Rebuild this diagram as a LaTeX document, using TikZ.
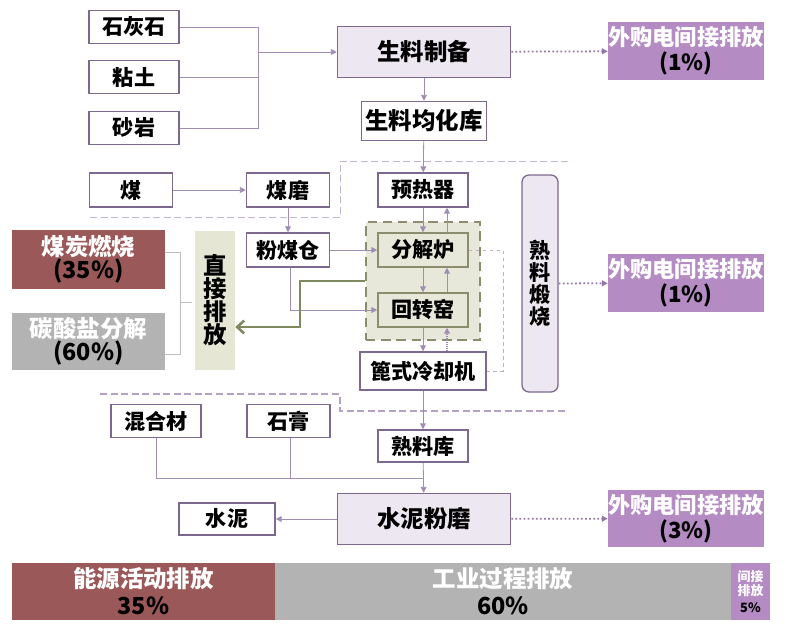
\documentclass[tikz,border=0pt]{standalone}
\usepackage{fontspec}
\setmainfont{Noto Sans CJK SC}
\usepackage{xcolor}
\usetikzlibrary{arrows.meta, positioning}

\definecolor{lnpurple}{HTML}{A08DB3}
\definecolor{bdpurple}{HTML}{7D6890}
\definecolor{lightpurple}{HTML}{EDE7F2}
\definecolor{elecpurple}{HTML}{B48BC3}
\definecolor{coalred}{HTML}{9B5859}
\definecolor{procgray}{HTML}{B3B3B3}
\definecolor{olivefill}{HTML}{E8E8DA}
\definecolor{olivedraw}{HTML}{8B8D6D}
\definecolor{oliveline}{HTML}{7F8A5E}
\definecolor{beige}{HTML}{E6E6D5}
\definecolor{regionline}{HTML}{B3A2C4}
\definecolor{bracketgray}{HTML}{BDBDBD}
\definecolor{dotpurple}{HTML}{9277A8}

\begin{document}
\begin{tikzpicture}[
    x=0.03cm, y=-0.03cm,
    box/.style={rectangle, draw=bdpurple, line width=1.3pt, fill=white, minimum width=2.7cm, minimum height=1cm, inner sep=0pt, font=\fontsize{18}{20}\selectfont\bfseries},
    bigbox/.style={box, fill=lightpurple, minimum width=5.19cm, minimum height=1.53cm, font=\fontsize{20}{22}\selectfont\bfseries},
    olivebox/.style={box, draw=olivedraw, fill=olivefill},
    elec/.style={rectangle, fill=elecpurple, minimum width=4.68cm, minimum height=1.74cm, inner sep=0pt, align=center, font=\fontsize{19}{21}\selectfont\bfseries},
    share/.style={rectangle, minimum width=4.59cm, minimum height=1.77cm, inner sep=0pt, align=center, font=\fontsize{20}{20}\selectfont\bfseries},
    barpart/.style={rectangle, minimum height=1.71cm, inner sep=0pt, align=center, font=\fontsize{20}{23}\selectfont\bfseries},
    conn/.style={draw=lnpurple, line width=0.7pt},
    arrow/.style={conn, -{Triangle[length=5pt,width=5pt]}},
    dotarrow/.style={arrow, draw=dotpurple, line width=1.5pt, dash pattern=on 1.5pt off 2pt},
    region/.style={draw=regionline, line width=1.2pt, dash pattern=on 6pt off 3pt}
  ]
    \useasboundingbox (0,0) rectangle (790,631);

    % Process boundaries
    \draw [region, line width=0.8pt, draw=regionline!80] (90,217) -- (340,217) -- (340,161) -- (568,161);
    \draw [region] (100,394) -- (340,394) -- (340,411) -- (568,411);

    % Raw materials
    \node (lime) [box] at (134,27) {石灰石};
    \node (clay) [box] at (134,77) {粘土};
    \node (sand) [box] at (134,128) {砂岩};
    \coordinate (rawjoin) at (258,52);
    \node (rawprep) [bigbox] at (424,52) {生料制备};
    \node (elecA) [elec] at (686,51) {\textcolor{white}{外购电间接排放}\\(1\%)};
    \node (rawsilo) [box, minimum width=3.75cm, minimum height=1.17cm, font=\fontsize{20}{22}\selectfont\bfseries] at (424,121) {生料均化库};

    % Coal line
    \node (coal) [box, minimum width=2.49cm, minimum height=1.02cm] at (131,190) {煤};
    \node (coalmill) [box, minimum width=2.49cm, minimum height=1.02cm] at (288,190) {煤磨};
    \node (coalbin) [box, minimum width=2.49cm, minimum height=1.02cm] at (288,250) {粉煤仓};

    % Kiln system
    \node (preheat) [box, minimum height=1.02cm] at (423,190) {预热器};
    \node (furnace) [rectangle, draw=olivedraw, fill=olivefill, line width=2.5pt, dash pattern=on 8pt off 5pt, minimum width=3.42cm, minimum height=3.54cm] at (423,281) {};
    \node (calciner) [olivebox, minimum height=1.02cm] at (423,250) {分解炉};
    \node (kiln) [olivebox, minimum height=1.02cm] at (423,310) {回转窑};
    \node (cooler) [box, minimum width=3.78cm, minimum height=1.14cm] at (423,371) {篦式冷却机};
    \node (clinker) [rectangle, rounded corners=6pt, draw=bdpurple, line width=1.1pt, fill=lightpurple, minimum width=1.08cm, minimum height=6.51cm, inner sep=0pt, align=center, font=\fontsize{18}{18.7}\selectfont\bfseries] at (540,283.5) {熟\\料\\煅\\烧};
    \node (elecB) [elec] at (686,283) {\textcolor{white}{外购电间接排放}\\(1\%)};

    % Direct emissions
    \node (direct) [rectangle, fill=beige, minimum width=1.2cm, minimum height=4.17cm, inner sep=0pt, align=center, font=\fontsize{20}{19.5}\selectfont\bfseries] at (215,300) {直\\接\\排\\放};
    \node (coalburn) [share, fill=coalred] at (88.5,259.5) {\textcolor{white}{煤炭燃烧}\\(35\%)};
    \node (carbonate) [share, fill=procgray, minimum height=1.71cm] at (88.5,341.5) {\textcolor{white}{碳酸盐分解}\\(60\%)};
    \coordinate (bracketend) at (192,302);

    % Cement grinding
    \node (clinkstore) [box, minimum height=0.96cm] at (423,446) {熟料库};
    \node (admix) [box] at (156,421) {混合材};
    \node (gypsum) [box, minimum width=2.49cm] at (288.5,421) {石膏};
    \coordinate (mixjoin) at (423,478);
    \node (cementmill) [bigbox] at (424,519) {水泥粉磨};
    \node (cement) [box, minimum width=2.88cm, minimum height=0.96cm] at (227,519) {水泥};
    \node (elecC) [elec, minimum height=1.71cm] at (686,518.5) {\textcolor{white}{外购电间接排放}\\(3\%)};

    % Emission shares
    \node (energy) [barpart, fill=coalred, minimum width=7.89cm] at (143.5,591.5) {\textcolor{white}{能源活动排放}\\35\%};
    \node (process) [barpart, fill=procgray, minimum width=13.68cm] at (503,591.5) {\textcolor{white}{工业过程排放}\\60\%};
    \node (indirect) [barpart, fill=elecpurple, minimum width=1.17cm, font=\fontsize{11}{12}\selectfont\bfseries] at (750.5,591.5) {\textcolor{white}{间接}\\\textcolor{white}{排放}\\[2pt]5\%};

    % Connections
    \draw [conn] (lime.east) -| (rawjoin);
    \draw [conn] (clay.east) -| (rawjoin);
    \draw [conn] (sand.east) -| (rawjoin);
    \draw [arrow] (rawjoin) -- (rawprep.west);
    \draw [dotarrow] (rawprep) -- (elecA);
    \draw [arrow] (rawprep) -- (rawsilo);
    \draw [arrow] (rawsilo) -- (preheat);
    \draw [arrow] (coal) -- (coalmill);
    \draw [arrow] (coalmill) -- (coalbin);
    \draw [arrow] (coalbin) -- (calciner);
    \draw [arrow] ([xshift=0.06cm]coalbin.south) |- (kiln.west);
    \draw [arrow] (preheat) -- (calciner);
    \draw [arrow] ([xshift=0.72cm]calciner.north) -- ([xshift=0.72cm]preheat.south);
    \draw [arrow] (calciner) -- (kiln);
    \draw [arrow] ([xshift=0.72cm]kiln.north) -- ([xshift=0.72cm]calciner.south);
    \draw [arrow] (kiln) -- (cooler);
    \draw [arrow, densely dotted, line width=1pt] ([xshift=0.72cm]cooler.north) -- ([xshift=0.72cm]kiln.south);
    \draw [conn, dashed, draw=lnpurple!70] (calciner.east) -- (503,250) |- (cooler.east);
    \draw [line width=2.2pt, draw=oliveline, -{Straight Barb[length=6pt,width=11pt]}] (furnace.west) -- (300,281) -- (300,327) -- (direct.east |- 0,327);
    \draw [draw=bracketgray, line width=0.7pt] (coalburn.east |- 0,252) -- (180,252) -- (180,354) -- (carbonate.east |- 0,354);
    \draw [draw=bracketgray, line width=0.7pt] (180,302) -- (bracketend);
    \draw [dotarrow] (clinker) -- (elecB);
    \draw [arrow] (cooler) -- (clinkstore);
    \draw [conn] (admix.south) |- (mixjoin);
    \draw [conn] ([xshift=0.06cm]gypsum.south) |- (mixjoin);
    \draw [arrow] (clinkstore) -- (cementmill);
    \draw [arrow] (cementmill) -- (cement);
    \draw [dotarrow] (cementmill) -- (elecC);

  \end{tikzpicture}
\end{document}
